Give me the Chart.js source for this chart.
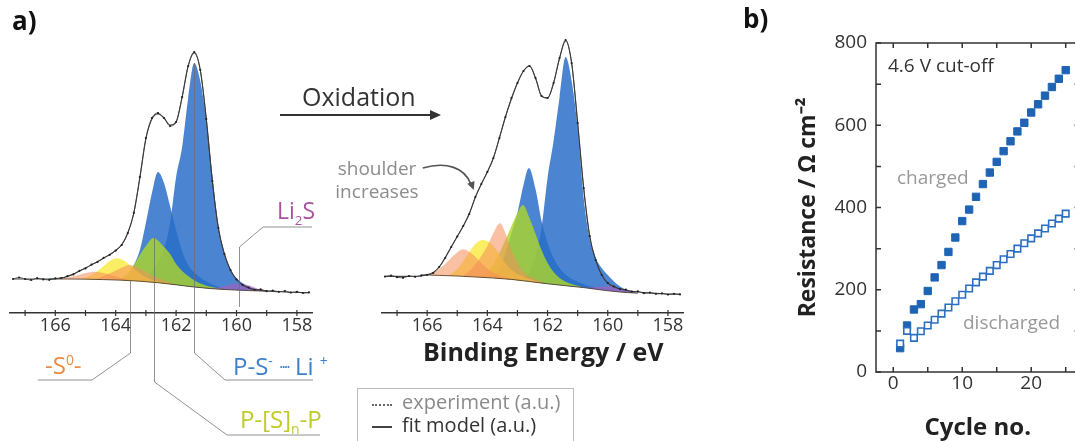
<!DOCTYPE html>
<html>
<head>
<meta charset="utf-8">
<script src="https://cdn.jsdelivr.net/npm/chart.js@4.4.1/dist/chart.umd.min.js"></script>
<style>
html, body { margin: 0; padding: 0; background: #fff; }
body { position: relative; width: 1075px; height: 441px; overflow: hidden; font-family: 'Open Sans', sans-serif; }
canvas { position: absolute; top: 0; }
.t { position: absolute; line-height: 1; white-space: nowrap; }
sup, sub { font-size: 0.58em; line-height: 0; }
.dots { font-size: 0.7em; vertical-align: 0.1em; letter-spacing: -2px; }
</style>
</head>
<body>
<canvas id="xpsPre" width="345" height="441" style="left:0px"></canvas>
<canvas id="xpsPost" width="345" height="441" style="left:360px"></canvas>
<canvas id="resist" width="370" height="443" style="left:730px"></canvas>

<div class="t" style="left:12px;top:7px;font-size:26px;font-weight:bold;color:#111">a)</div>
<div class="t" style="left:743px;top:5px;font-size:26px;font-weight:bold;color:#111">b)</div>

<div class="t" style="left:45px;top:353px;font-size:24px;color:#ee8a40">-S<sup>0</sup>-</div>
<div class="t" style="left:233px;top:354px;font-size:24px;color:#3c7fcb">P-S<sup>-</sup> <span class="dots">····</span> Li <sup>+</sup></div>
<div class="t" style="left:240px;top:407px;font-size:24px;color:#bfcb2a">P-[S]<sub>n</sub>-P</div>
<div class="t" style="left:277px;top:199px;font-size:23px;color:#a9539e">Li<sub>2</sub>S</div>

<div class="t" style="left:302px;top:84px;font-size:25px;color:#333">Oxidation</div>
<svg style="position:absolute;left:0;top:0" width="1075" height="441">
  <line x1="280" y1="115" x2="432" y2="115" stroke="#333" stroke-width="2"/>
  <polygon points="441,115 430,110 430,120" fill="#333"/>
</svg>
<div class="t" style="left:332px;top:157px;width:90px;text-align:center;font-size:19px;line-height:23px;color:#8c8c8c">shoulder<br>increases</div>
<div class="t" style="left:423px;top:339px;font-size:25px;font-weight:bold;color:#222">Binding Energy / eV</div>

<div style="position:absolute;left:357px;top:388px;width:215px;height:70px;border:1px solid #bbb"></div>
<div style="position:absolute;left:372px;top:404px;width:20px;border-top:2px dotted #666"></div>
<div style="position:absolute;left:372px;top:426px;width:20px;border-top:2px solid #444"></div>
<div class="t" style="left:402px;top:392px;font-size:20px;color:#8a8a8a">experiment (a.u.)</div>
<div class="t" style="left:402px;top:415px;font-size:20px;color:#333">fit model (a.u.)</div>

<div class="t" style="left:888px;top:56px;font-size:19px;color:#333">4.6 V cut-off</div>
<div class="t" style="left:897px;top:168px;font-size:19px;color:#999">charged</div>
<div class="t" style="left:963px;top:313px;font-size:19px;color:#999">discharged</div>

<script>
// ---------- S 2p spectra, binding energy grid (eV) ----------
const energyGrid = [167.4,167.2,167.0,166.8,166.6,166.4,166.2,166.0,165.8,165.6,
  165.4,165.2,165.0,164.8,164.6,164.4,164.2,164.0,163.8,163.6,
  163.4,163.2,163.0,162.8,162.6,162.4,162.2,162.0,161.8,161.6,
  161.4,161.2,161.0,160.8,160.6,160.4,160.2,160.0,159.8,159.6,
  159.4,159.2,159.0,158.8,158.6,158.4,158.2,158.0,157.8,157.6];

// before oxidation
const expBefore = [34.0,35.5,34.0,33.0,34.8,33.6,33.2,34.6,35.0,36.8,
  38.6,42.2,44.6,48.4,51.0,55.2,58.2,62.4,68.0,80.0,
  100,136,175,195,200,195,187,191,216,247,
  261,243,194,132,85,59,43,33.5,28.0,25.5,
  23.2,23.6,21.8,22.4,21.2,21.9,20.4,21.2,20.0,20.6];
const fitBefore = [34.0,34.0,34.0,34.0,34.0,34.0,34.0,34.2,35.0,36.6,
  39.0,42.0,45.0,48.2,51.4,54.8,58.4,62.6,68.5,80.0,
  100,135,174,194,199,195,188,191,216,247,
  260,243,194,132,85,59,43,33.5,28.0,25.0,
  23.5,22.6,22.0,21.6,21.3,21.0,20.8,20.6,20.4,20.2];

// after oxidation
const expAfter = [36.4,37.4,35.8,35.2,37.0,36.2,37.4,38.2,40.0,46.0,
  55.0,66.0,76.5,87.0,99.0,116,129,141,155,175,
  196,215,230,242,247,235,217,215,230,255,
  273,250,190,125,77,53,38,30.0,26.5,24.0,
  23.4,21.5,21.6,19.8,20.4,19.2,19.6,18.4,19.2,18.6];
const fitAfter = [36.6,36.6,36.6,36.6,36.7,36.8,37.0,38.2,40.5,46.0,
  55.5,66.0,76.5,87.0,99.5,115.5,129,141,155,175,
  196,214,230,242,247,235,217,215,230,255,
  272,250,190,125,77,53,38,30.0,26.5,24.2,
  22.8,21.8,21.0,20.4,20.0,19.6,19.3,19.0,18.8,18.6];

// background under the fit
const bgEnergy = [166.2,165.6,165.0,164.4,163.8,163.2,162.6,162.0,161.4,160.8,160.2,159.6,159.0];
const bgBefore = [34.0,34.0,33.8,33.4,32.8,31.8,30.3,28.2,26.0,24.3,23.2,22.4,21.8];
const bgAfter = [38.2,37.6,37.0,36.0,35.0,33.6,31.5,29.2,27.3,25.4,23.0,21.0,19.8];

// fit components, before oxidation
const preLiA_E = [163.0,162.8,162.6,162.4,162.2,162.0,161.8,161.6,161.4,161.2,161.0,160.8,160.6,160.4,160.2,160.0,159.8,159.6,159.3,159.0];
const preLiA_I = [31.4,42,50,64,90,136,166,215,250,232,193,138,86,59,43,35,30,26.5,23.5,21.9];
const preLiB_E = [163.8,163.6,163.4,163.2,163.0,162.8,162.6,162.4,162.2,162.0,161.8,161.6,161.3,160.9,160.4];
const preLiB_I = [32.9,38,48,63,90,120,141,130,107,83,62,48,38,30,23.9];
const prePSnA_E = [164.0,163.8,163.6,163.4,163.2,163.0,162.75,162.4,162.2,162.0,161.8,161.6,161.3,160.9,160.4];
const prePSnA_I = [33.2,35.5,40,48,58,67,75,66,59,49,42,37,31,26.5,23.9];
const prePSnB_E = [165.2,165.0,164.8,164.6,164.4,164.2,163.95,163.7,163.5,163.3,163.1,162.9,162.6,162.2];
const prePSnB_I = [33.9,35.6,38,42,47,52,54.7,52,47,42,37.5,34.5,31.5,29.3];
const preS0A_E = [164.7,164.4,164.1,163.8,163.53,163.3,163.0,162.7,162.4,162.0];
const preS0A_I = [33.7,37,41,45.5,48,46,41,36,32.5,28.4];
const preS0B_E = [165.9,165.6,165.3,165.0,164.7,164.4,164.1,163.8,163.4];
const preS0B_I = [34.1,35.5,37.5,40,41.3,40,37.5,35,32.6];
const preLi2S_E = [160.9,160.6,160.3,160.0,159.7,159.4,159.1];
const preLi2S_I = [24.5,25.6,27.8,29.5,28.5,25.5,22.0];

// fit components, after oxidation
const postLiA_E = [162.9,162.6,162.4,162.2,162.0,161.8,161.6,161.4,161.2,161.0,160.8,160.6,160.4,160.2,160.0,159.7,159.4,159.0];
const postLiA_I = [32.8,41,58,85,135,172,216,256,232,185,115,74,55,45,38,29,23.5,19.8];
const postLiB_E = [163.9,163.6,163.4,163.2,163.0,162.8,162.62,162.4,162.2,162.0,161.8,161.6,161.3,160.9,160.4];
const postLiB_I = [35.2,45,60,80,100,128,145,124,92,70,55,45,36,30,25.0];
const postPSnA_E = [164.2,164.0,163.8,163.6,163.4,163.2,163.0,162.82,162.6,162.4,162.2,162.0,161.8,161.6,161.3,160.9];
const postPSnA_I = [36.5,41,49,60,73,87,100,108,95,79,63,50,41,35,30,26.5];
const postPSnB_E = [165.3,165.0,164.8,164.6,164.4,164.15,163.9,163.7,163.5,163.3,163.0,162.6,162.2];
const postPSnB_I = [37.4,44,52,61,69,73,70,63,54,46,39,34,30.3];
const postS0A_E = [164.8,164.5,164.2,164.0,163.8,163.58,163.4,163.2,163.0,162.8,162.5,162.1];
const postS0A_I = [37.5,45,57,67,80,89.7,80,63,50,41,35,30.0];
const postS0B_E = [166.0,165.7,165.4,165.1,164.8,164.5,164.2,163.9,163.6,163.2];
const postS0B_I = [38.0,42,49,58,63.7,59,50,42,37.5,34.0];
const postLi2S_E = [160.8,160.5,160.2,159.95,159.7,159.4,159.1];
const postLi2S_I = [25.4,25.8,26.6,27,25.5,22.5,20.3];

const xpsTicks = [166,164,162,160,158];
const xpsMinorTicks = [167,166,165,164,163,162,161,160,159,158];

// ---------- resistance vs cycle ----------
const cycles = [1,2,3,4,5,6,7,8,9,10,11,12,13,14,15,16,17,18,19,20,21,22,23,24,25];
const chargedRes = [58,113,152,165,197,230,260,292,327,367,395,426,457,485,511,537,561,585,606,631,651,672,693,713,734];
const dischargedRes = [69,100,83,99,113,127,142,157,172,188,203,218,232,246,260,274,287,300,313,325,337,349,361,373,385];
const cycleTicks = [0,10,20];
const cycleMinor = [0,5,10,15,20,25];
const resMinor = [0,100,200,300,400,500,600,700,800];

// ---------- styling ----------
const colBlue = 'rgba(40,110,200,0.84)';
const colGreen = 'rgba(175,215,40,0.8)';
const colYellow = 'rgba(248,232,40,0.72)';
const colSalmon = 'rgba(245,140,90,0.55)';
const colPurple = 'rgba(175,90,190,0.6)';

Chart.defaults.font.family = "'Open Sans', sans-serif";

function pts(E, I) {
  return E.map((e, i) => ({ x: e, y: I[i] }));
}

const xpsAxisMarks = {
  id: 'xpsAxisMarks',
  afterDraw(chart) {
    const { ctx, scales: { x }, chartArea: a } = chart;
    ctx.save();
    ctx.strokeStyle = '#333';
    ctx.lineWidth = 1.2;
    ctx.beginPath();
    xpsMinorTicks.forEach(v => {
      const p = x.getPixelForValue(v);
      ctx.moveTo(p, a.bottom - 3);
      ctx.lineTo(p, a.bottom + 3);
    });
    ctx.stroke();
    ctx.restore();
  }
};

// leader lines from the component positions to the species labels
const leaderLines = [
  { energy: 163.53, from: 32, bendY: 353, endX: 92, endY: 380, tailX: 38 },
  { energy: 162.73, from: 75, bendY: 382, endX: 227, endY: 435, tailX: 320 },
  { energy: 161.41, from: 250, bendY: 353, endX: 225, endY: 380, tailX: 313 },
  { energy: 159.92, from: 6, bendY: 247, endX: 263, endY: 227, tailX: 312 }
];
const leaders = {
  id: 'leaders',
  afterDraw(chart) {
    const { ctx, scales: { x, y } } = chart;
    ctx.save();
    ctx.strokeStyle = 'rgba(110,110,110,0.75)';
    ctx.lineWidth = 1;
    leaderLines.forEach(s => {
      const px = Math.round(x.getPixelForValue(s.energy)) + 0.5;
      ctx.beginPath();
      ctx.moveTo(px, y.getPixelForValue(s.from));
      ctx.lineTo(px, s.bendY);
      ctx.lineTo(s.endX, s.endY);
      ctx.lineTo(s.tailX, s.endY);
      ctx.stroke();
    });
    ctx.restore();
  }
};

// "shoulder increases" arrow, tip anchored on the spectrum
const arrowTip = [164.45, 123];
const shoulderArrow = {
  id: 'shoulderArrow',
  afterDraw(chart) {
    const { ctx, scales: { x, y } } = chart;
    const tx = x.getPixelForValue(arrowTip[0]), ty = y.getPixelForValue(arrowTip[1]);
    const sx = tx - 51, sy = ty - 22;
    ctx.save();
    ctx.strokeStyle = '#555';
    ctx.fillStyle = '#555';
    ctx.lineWidth = 1.6;
    ctx.beginPath();
    ctx.moveTo(sx, sy);
    ctx.bezierCurveTo(sx + 24, sy - 7, tx - 9, ty - 22, tx - 3, ty - 6);
    ctx.stroke();
    const ang = Math.atan2(18, 7);
    ctx.beginPath();
    ctx.moveTo(tx, ty);
    ctx.lineTo(tx - 9 * Math.cos(ang - 0.45), ty - 9 * Math.sin(ang - 0.45));
    ctx.lineTo(tx - 9 * Math.cos(ang + 0.45), ty - 9 * Math.sin(ang + 0.45));
    ctx.closePath();
    ctx.fill();
    ctx.restore();
  }
};

function xpsChart(id, pad, exp, fit, bg, comps, extra) {
  const ds = [{
    label: 'background', data: pts(bgEnergy, bg), showLine: true,
    borderColor: 'rgba(80,60,40,0.85)', borderWidth: 1, pointRadius: 0, order: 5
  }];
  comps.forEach(c => ds.push({
    data: pts(c[0], c[1]), showLine: true, fill: 0,
    backgroundColor: c[2], borderColor: 'rgba(0,0,0,0)', borderWidth: 0,
    pointRadius: 0, order: c[3]
  }));
  ds.push({
    label: 'fit model', data: pts(energyGrid, fit), showLine: true,
    borderColor: '#4a4a4a', borderWidth: 1.1, pointRadius: 0, order: 3
  });
  ds.push({
    label: 'experiment', data: pts(energyGrid, exp), showLine: true,
    borderColor: '#333', borderWidth: 0.8, pointRadius: 1.1,
    pointBackgroundColor: '#222', pointBorderWidth: 0, order: 2
  });
  return new Chart(document.getElementById(id), {
    type: 'scatter',
    data: { datasets: ds },
    options: {
      responsive: false, animation: false, devicePixelRatio: 1,
      layout: { padding: pad },
      elements: { line: { cubicInterpolationMode: 'monotone' } },
      plugins: { legend: { display: false }, tooltip: { enabled: false } },
      scales: {
        x: {
          type: 'linear', reverse: true, min: 157.5, max: 167.5,
          grid: { display: false, drawTicks: false },
          border: { display: true, color: '#333', width: 1.5 },
          ticks: { font: { size: 18 }, color: '#333', padding: 2 },
          afterBuildTicks: s => { s.ticks = xpsTicks.map(v => ({ value: v })); },
          afterFit: s => { s.height = 40; }
        },
        y: { display: false, min: 0, max: 280 }
      }
    },
    plugins: [xpsAxisMarks].concat(extra)
  });
}

xpsChart('xpsPre', { left: 10, right: 33, top: 33, bottom: 88 }, expBefore, fitBefore, bgBefore, [
  [preLiB_E, preLiB_I, colBlue, 12],
  [preLiA_E, preLiA_I, colBlue, 11],
  [prePSnA_E, prePSnA_I, colGreen, 10],
  [prePSnB_E, prePSnB_I, colYellow, 9],
  [preS0A_E, preS0A_I, colSalmon, 8],
  [preS0B_E, preS0B_I, colSalmon, 7],
  [preLi2S_E, preLi2S_I, colPurple, 6]
], [leaders]);

xpsChart('xpsPost', { left: 22, right: 22, top: 33, bottom: 88 }, expAfter, fitAfter, bgAfter, [
  [postLiB_E, postLiB_I, colBlue, 12],
  [postLiA_E, postLiA_I, colBlue, 11],
  [postPSnA_E, postPSnA_I, colGreen, 10],
  [postPSnB_E, postPSnB_I, colYellow, 9],
  [postS0A_E, postS0A_I, colSalmon, 8],
  [postS0B_E, postS0B_I, colSalmon, 7],
  [postLi2S_E, postLi2S_I, colPurple, 6]
], [shoulderArrow]);

// box frame with inward ticks on all sides
const frameTicks = {
  id: 'frameTicks',
  afterDraw(chart) {
    const { ctx, chartArea: a, scales: { x, y } } = chart;
    ctx.save();
    ctx.strokeStyle = '#333';
    ctx.lineWidth = 1.5;
    ctx.strokeRect(a.left, a.top, a.right - a.left, a.bottom - a.top);
    ctx.beginPath();
    resMinor.forEach(v => {
      const p = y.getPixelForValue(v);
      ctx.moveTo(a.left, p); ctx.lineTo(a.left + 5, p);
      ctx.moveTo(a.right, p); ctx.lineTo(a.right - 5, p);
    });
    cycleMinor.forEach(v => {
      const p = x.getPixelForValue(v);
      ctx.moveTo(p, a.bottom); ctx.lineTo(p, a.bottom - 5);
      ctx.moveTo(p, a.top); ctx.lineTo(p, a.top + 5);
    });
    ctx.stroke();
    ctx.restore();
  }
};

new Chart(document.getElementById('resist'), {
  type: 'scatter',
  data: {
    datasets: [
      {
        label: 'discharged', data: pts(cycles, dischargedRes),
        pointStyle: 'rect', pointRadius: 4.6, backgroundColor: '#fff',
        borderColor: '#2b6fc0', borderWidth: 1.6
      },
      {
        label: 'charged', data: pts(cycles, chargedRes),
        pointStyle: 'rect', pointRadius: 5.2, backgroundColor: '#1f64b4',
        borderColor: '#1f64b4', borderWidth: 1
      }
    ]
  },
  options: {
    responsive: false, animation: false, devicePixelRatio: 1,
    layout: { padding: { left: 0, right: 20.5, top: 43, bottom: 0 } },
    plugins: { legend: { display: false }, tooltip: { enabled: false } },
    scales: {
      x: {
        type: 'linear', min: -2.5, max: 27,
        grid: { display: false, drawTicks: false }, border: { display: false },
        ticks: { font: { size: 19 }, color: '#333', padding: 0 },
        afterBuildTicks: s => { s.ticks = cycleTicks.map(v => ({ value: v })); },
        afterFit: s => { s.height = 71; },
        title: { display: true, text: 'Cycle no.', font: { size: 24, weight: 'bold' }, color: '#222', padding: 0 }
      },
      y: {
        min: 0, max: 800,
        grid: { display: false, drawTicks: false }, border: { display: false },
        ticks: { stepSize: 200, font: { size: 19 }, color: '#333', padding: 9 },
        afterFit: s => { s.width = 146; },
        title: { display: true, text: 'Resistance / Ω cm⁻²', font: { size: 23, weight: 'bold' }, color: '#222', padding: { top: 65, bottom: 0 } }
      }
    }
  },
  plugins: [frameTicks]
});
</script>
</body>
</html>
